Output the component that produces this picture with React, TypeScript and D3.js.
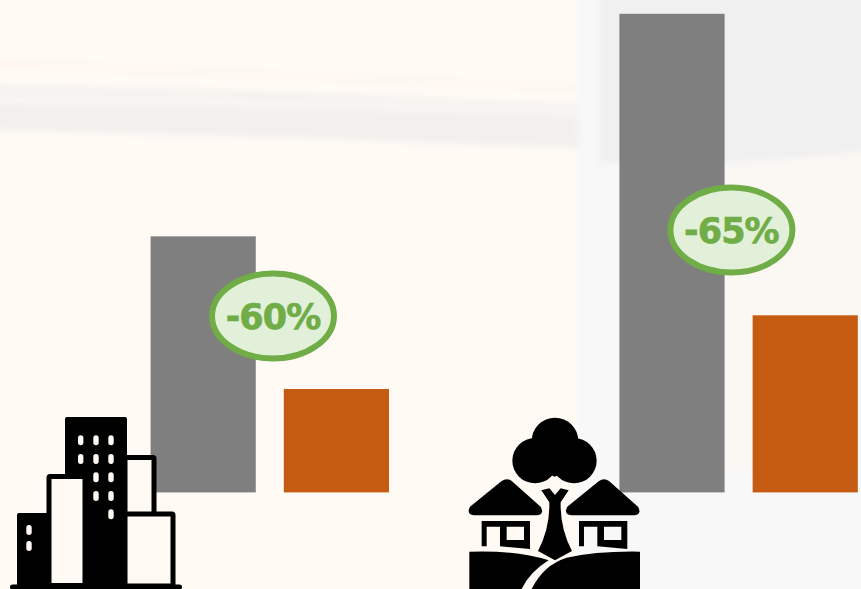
import React from "react";
import * as d3 from "d3";

const width = 861;
const height = 589;
const groups = ["City", "Countryside"];
const seriesNames = ["Before", "After"];
const beforeValues = [53.5, 100];
const afterValues = [21.6, 37];
const reductionLabels = ["-60%", "-65%"];
const seriesColors = ["#7F7F7F", "#C55A11"];

const x0 = d3.scaleBand<string>().domain(groups).range([150.6, 857.8]).paddingInner(0.4915);
const x1 = d3.scaleBand<string>().domain(seriesNames).range([0, x0.bandwidth()]).paddingInner(0.2105);
const y = d3.scaleLinear().domain([0, 100]).range([492.4, 13.8]);

const badgeOffsets = [
  { dx: 122.4, cy: 316 },
  { dx: 112, cy: 230 },
];

function Background() {
  return (
    <g>
      <rect width={width} height={height} fill="#FFFAF4" />
      <g filter="url(#bgBlur)">
        <polygon points="578,-10 871,-10 871,599 578,599" fill="#F8F8F8" />
        <polygon points="600,-10 871,-10 871,152 725,163 600,163" fill="#F0F0F0" />
        <polygon points="725,168 871,150 871,462 725,470" fill="#FBF7F3" />
        <polygon points="-10,60 300,74 578,86 578,90 300,78 -10,66" fill="#FFF4EE" />
        <polygon points="-10,84 300,92 578,104 578,110 300,102 -10,97" fill="#F4F3F0" />
        <polygon points="-10,97 300,102 578,110 578,116 300,108 -10,104" fill="#F8F7F4" />
        <polygon points="-10,104 300,108 578,116 578,148 300,138 -10,130" fill="#F1F0EE" />
      </g>
    </g>
  );
}

function CityIcon() {
  const columns = [
    { x: 80.7, rows: [440.3, 459] },
    { x: 96, rows: [440.3, 459, 477.3, 496] },
    { x: 111, rows: [440.3, 459, 477.3, 496, 514.3] },
    { x: 29, rows: [530, 546] },
  ];
  return (
    <g>
      <path d="M65 419 Q65 417 67 417 H125 Q127 417 127 419 V585 H65 Z" fill="#000" />
      <path d="M17 515 Q17 513 19 513 H47 V585 H17 Z" fill="#000" />
      <rect x={49} y={476.5} width={36} height={109} fill="#FFFAF4" stroke="#000" strokeWidth={5} rx={1} />
      <rect x={125} y={457.5} width={29} height={60} fill="#FFFAF4" stroke="#000" strokeWidth={5} rx={1} />
      <rect x={125} y={514} width={48} height={72} fill="#FFFAF4" stroke="#000" strokeWidth={5} rx={1} />
      <rect x={10} y={584.5} width={172} height={5} rx={2.5} fill="#000" />
      {columns.flatMap((c) =>
        c.rows.map((r) => (
          <rect key={`${c.x}-${r}`} x={c.x - 2.7} y={r - 5} width={5.4} height={10} rx={2.7} fill="#FFFAF4" />
        ))
      )}
    </g>
  );
}

function House({ dx }: { dx: number }) {
  return (
    <g transform={`translate(${dx},0)`}>
      <path
        d="M72 331 Q48 328 60 305 L155 228 Q170 217 185 228 L272 305 Q284 328 262 331 Z"
        fill="#000"
      />
      <path
        d="M95 348 H240 V432 L150 424 V365 H110 V424 L95 424 Z M170 365 V405 H222 V365 Z"
        fill="#000"
        fillRule="evenodd"
      />
    </g>
  );
}

function VillageIcon() {
  return (
    <g transform="translate(450,405) scale(0.3333)">
      <circle cx={315} cy={108} r={70} fill="#000" />
      <circle cx={255} cy={167} r={68} fill="#000" />
      <circle cx={372} cy={167} r={68} fill="#000" />
      <path d="M255 130 H372 V190 L314 215 L255 190 Z" fill="#000" />
      <path
        d="M274 256 L298 250 L315 270 L332 250 L356 256 L332 292 Q330 370 366 438 L315 466 L264 438 Q300 370 298 292 Z"
        fill="#000"
      />
      <House dx={0} />
      <House dx={292} />
      <path d="M58 440 Q200 435 296 466 Q240 500 215 552 H58 Z" fill="#000" />
      <path d="M570 440 V552 H245 Q280 480 350 458 Q440 438 570 440 Z" fill="#000" />
    </g>
  );
}

export default function App() {
  return (
    <svg
      width={width}
      height={height}
      viewBox={`0 0 ${width} ${height}`}
      style={{ position: "absolute", top: 0, left: 0, display: "block" }}
    >
      <defs>
        <filter id="bgBlur" x="-5%" y="-5%" width="110%" height="110%">
          <feGaussianBlur stdDeviation="3" />
        </filter>
      </defs>
      <Background />
      {groups.map((g, i) => {
        const vals = [beforeValues[i], afterValues[i]];
        return (
          <g key={g} transform={`translate(${x0(g)},0)`}>
            {seriesNames.map((s, j) => (
              <rect
                key={s}
                x={x1(s)}
                y={y(vals[j])}
                width={x1.bandwidth()}
                height={y(0) - y(vals[j])}
                fill={seriesColors[j]}
              />
            ))}
          </g>
        );
      })}
      <CityIcon />
      <VillageIcon />
      {groups.map((g, i) => {
        const cx = (x0(g) as number) + badgeOffsets[i].dx;
        const cy = badgeOffsets[i].cy;
        return (
          <g key={g}>
            <ellipse cx={cx} cy={cy} rx={61} ry={42.5} fill="#E2F0D9" stroke="#70AD47" strokeWidth={6} />
            <text
              x={cx}
              y={cy + 13}
              textAnchor="middle"
              fontFamily="'DejaVu Sans', sans-serif"
              fontWeight={700}
              fontSize={35}
              letterSpacing={-0.9}
              stroke="#70AD47"
              strokeWidth={0.7}
              fill="#70AD47"
            >
              {reductionLabels[i]}
            </text>
          </g>
        );
      })}
    </svg>
  );
}
